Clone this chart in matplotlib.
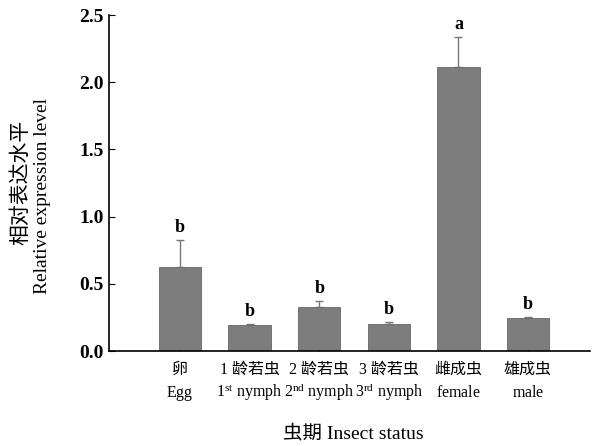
import matplotlib
matplotlib.use("Agg")
import matplotlib.pyplot as plt
from matplotlib.transforms import blended_transform_factory

plt.rcParams['font.family'] = ['Liberation Serif', 'Noto Sans CJK SC']
plt.rcParams['mathtext.fontset'] = 'custom'
plt.rcParams['mathtext.rm'] = 'Liberation Serif'
plt.rcParams['mathtext.it'] = 'Liberation Serif'

cn_labels = ['卵', '1 龄若虫', '2 龄若虫', '3 龄若虫', '雌成虫', '雄成虫']
en_labels = [r'$\mathrm{Egg}$', r'$\mathrm{1^{st}\ nymph}$', r'$\mathrm{2^{nd}\ nymph}$',
             r'$\mathrm{3^{rd}\ nymph}$', r'$\mathrm{female}$', r'$\mathrm{male}$']
values = [0.625, 0.19, 0.33, 0.20, 2.115, 0.245]
errors = [0.20, 0.008, 0.045, 0.015, 0.22, 0.005]
letters = ['b', 'b', 'b', 'b', 'a', 'b']
yticks = [0.0, 0.5, 1.0, 1.5, 2.0, 2.5]

fig = plt.figure(figsize=(5.93, 4.46), dpi=100)
ax = fig.add_axes([109/593, 95/446, (590-109)/593, (351-15)/446])

x = list(range(len(values)))
ax.bar(x, values, width=0.61, color='#7d7d7d', edgecolor='#666666', linewidth=0.6, zorder=2)
ax.errorbar(x, values, yerr=[[0]*len(errors), errors], fmt='none', ecolor='#777777',
            elinewidth=1.0, capsize=3, capthick=1.0, zorder=1)
for xi, v, e, l in zip(x, values, errors, letters):
    ax.text(xi, v + e + 0.03, l, ha='center', va='bottom', fontsize=13, fontweight='bold')

ax.set_xlim(-1.02, 5.89)
ax.set_ylim(0, 2.5)
ax.set_yticks(yticks)
ax.set_yticklabels([f'{t:.1f}' for t in yticks], fontsize=14, fontweight='bold')
ax.set_xticks(x)
ax.set_xticklabels(cn_labels, fontsize=11.5)
ax.tick_params(axis='x', direction='in', length=3, pad=8, color='#333333')
ax.tick_params(axis='y', direction='in', length=4, pad=4)
for s in ['top', 'right']:
    ax.spines[s].set_visible(False)
for s in ['left', 'bottom']:
    ax.spines[s].set_linewidth(1.2)

tr = blended_transform_factory(ax.transData, ax.transAxes)
for xi, lab in zip(x, en_labels):
    ax.text(xi, -0.137, lab, transform=tr, ha='center', va='baseline', fontsize=11.5)

fig.text(353/593, 1 - 433/446, '虫期 Insect status', ha='center', va='center', fontsize=14)
fig.text(21/593, 1 - 182/446, '相对表达水平', rotation=90, ha='center', va='center', fontsize=15)
fig.text(43/593, 1 - 196/446, 'Relative expression level', rotation=90, ha='center', va='center', fontsize=14)

fig.savefig('out.png', dpi=100)
